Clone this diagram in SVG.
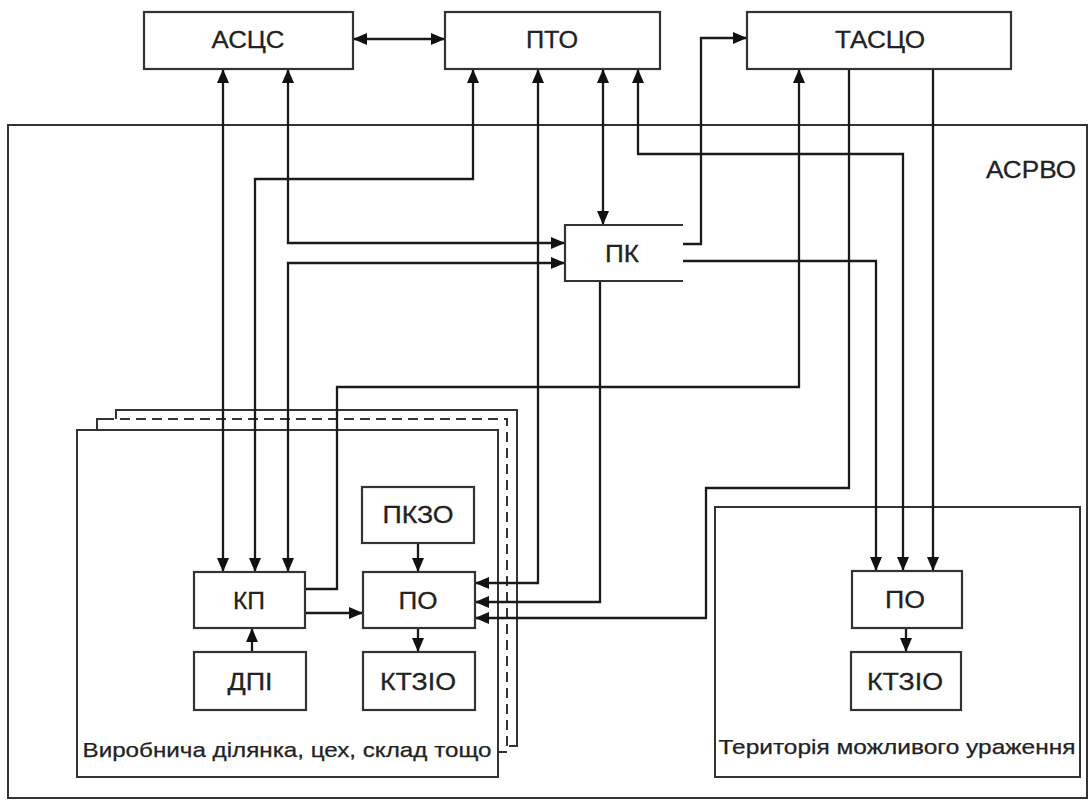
<svg xmlns="http://www.w3.org/2000/svg" width="1090" height="802" viewBox="0 0 1090 802">
<style>
.frame{fill:none;stroke:#333;stroke-width:2}
.box{fill:#fff;stroke:#333;stroke-width:2.2}
.lbl{font-family:"Liberation Sans",Arial,sans-serif;font-size:24px;fill:#222;text-anchor:middle;stroke:#222;stroke-width:0.3}
.cap{font-family:"Liberation Sans",Arial,sans-serif;font-size:21px;fill:#222;text-anchor:middle;stroke:#222;stroke-width:0.25}
.c{fill:none;stroke:#1a1a1a;stroke-width:2.3}
.e{marker-end:url(#ah)}
.b{marker-start:url(#ah);marker-end:url(#ah)}
</style>
<defs>
<marker id="ah" markerUnits="userSpaceOnUse" markerWidth="14" markerHeight="12" refX="14" refY="6" orient="auto-start-reverse">
<path d="M0,0 L14,6 L0,12 z" fill="#111"/>
</marker>
</defs>
<rect width="1090" height="802" fill="#fff"/>

<g id="frames">
<rect id="asrvo" class="frame" x="8" y="125" width="1079" height="673"/>
<text class="lbl" x="1031" y="178" textLength="90" lengthAdjust="spacingAndGlyphs">АСРВО</text>
<path class="frame" d="M116,419 V410 H517 V746 H509"/>
<path class="frame" d="M97,430 V419 H104" />
<path class="frame" d="M104,419 H507 V752 H498" stroke-dasharray="10,6"/>
<rect id="vyrobnycha" class="frame" x="77" y="430" width="421" height="347" fill="#fff"/>
<text class="cap" x="287" y="757" textLength="409" lengthAdjust="spacingAndGlyphs">Виробнича ділянка, цех, склад тощо</text>
<rect id="terytoriia" class="frame" x="715" y="507" width="365" height="270" fill="#fff"/>
<text class="cap" x="897" y="754" textLength="357" lengthAdjust="spacingAndGlyphs">Територія можливого ураження</text>
</g>

<g id="connectors">
<path class="c b" d="M353,39 H445"/>
<path class="c b" d="M223,69 V572"/>
<path class="c b" d="M288,69 V243 H565"/>
<path class="c b" d="M288,572 V263 H565"/>
<path class="c b" d="M473,69 V179 H255 V572"/>
<path class="c b" d="M538,69 V583 H475"/>
<path class="c b" d="M603,69 V225"/>
<path class="c b" d="M638,69 V154 H903 V571"/>
<path class="c e" d="M683,244 H701 V38 H747"/>
<path class="c e" d="M683,261 H876 V571"/>
<path class="c e" d="M600,281 V602 H475"/>
<path class="c e" d="M305,589 H337 V387 H799 V69"/>
<path class="c e" d="M849,69 V488 H706 V618 H475"/>
<path class="c e" d="M933,69 V571"/>
<path class="c e" d="M305,613 H363" stroke-width="3.2"/>
<path class="c e" d="M252,652 V628"/>
<path class="c e" d="M418,543 V572"/>
<path class="c e" d="M418,628 V652"/>
<path class="c e" d="M906,628 V652"/>
</g>

<g id="ascs"><rect class="box" x="144" y="12" width="209" height="57"/><text class="lbl" x="248" y="48" textLength="73" lengthAdjust="spacingAndGlyphs">АСЦС</text></g>
<g id="pto"><rect class="box" x="445" y="12" width="215" height="57"/><text class="lbl" x="552" y="48" textLength="52" lengthAdjust="spacingAndGlyphs">ПТО</text></g>
<g id="tasco"><rect class="box" x="747" y="12" width="264" height="57"/><text class="lbl" x="880" y="48" textLength="90" lengthAdjust="spacingAndGlyphs">ТАСЦО</text></g>
<g id="pk"><rect x="565" y="225" width="118" height="56" fill="#fff"/><path d="M683,225 H565 V281 H683" fill="none" stroke="#333" stroke-width="2.2"/><text class="lbl" x="622" y="262" textLength="34" lengthAdjust="spacingAndGlyphs">ПК</text></g>
<g id="kp"><rect class="box" x="194" y="572" width="111" height="56"/><text class="lbl" x="249" y="609" textLength="32" lengthAdjust="spacingAndGlyphs">КП</text></g>
<g id="dpi"><rect class="box" x="194" y="652" width="112" height="58"/><text class="lbl" x="250" y="690" textLength="45" lengthAdjust="spacingAndGlyphs">ДПІ</text></g>
<g id="pkzo"><rect class="box" x="362" y="487" width="112" height="56"/><text class="lbl" x="418" y="523" textLength="71" lengthAdjust="spacingAndGlyphs">ПКЗО</text></g>
<g id="po1"><rect class="box" x="363" y="572" width="112" height="56"/><text class="lbl" x="418" y="609" textLength="39" lengthAdjust="spacingAndGlyphs">ПО</text></g>
<g id="ktzio1"><rect class="box" x="363" y="652" width="112" height="58"/><text class="lbl" x="418" y="690" textLength="76" lengthAdjust="spacingAndGlyphs">КТЗІО</text></g>
<g id="po2"><rect class="box" x="852" y="571" width="110" height="57"/><text class="lbl" x="905" y="608" textLength="40" lengthAdjust="spacingAndGlyphs">ПО</text></g>
<g id="ktzio2"><rect class="box" x="851" y="652" width="110" height="58"/><text class="lbl" x="905" y="690" textLength="76" lengthAdjust="spacingAndGlyphs">КТЗІО</text></g>
</svg>
